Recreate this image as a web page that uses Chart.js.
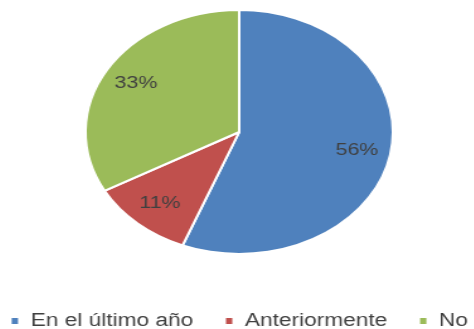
<!DOCTYPE html>
<html>
<head>
<meta charset="utf-8">
<script src="https://cdn.jsdelivr.net/npm/chart.js@4/dist/chart.umd.min.js"></script>
<style>
    html, body { margin: 0; padding: 0; background: #fff; overflow: hidden; width: 474px; height: 329px; }
    /* the reference picture is stretched horizontally, so the chart is too */
    #wrap { position: absolute; left: -37.7px; top: -23px; width: 440px; height: 363px; transform: scaleX(1.26); transform-origin: 0 0; }
</style>
</head>
<body>
<div id="wrap"><canvas id="pie-chart"></canvas></div>
<script>
const categorias = ['En el último año', 'Anteriormente', 'No'];
const valores = [56, 11, 33];
const colores = ['#4F81BD', '#C0504D', '#9BBB59'];

// etiquetas de porcentaje dentro de cada sector
const etiquetasPlugin = {
    id: 'etiquetas',
    afterDatasetsDraw(chart) {
        const ctx = chart.ctx;
        const meta = chart.getDatasetMeta(0);
        const total = valores.reduce((a, b) => a + b, 0);
        ctx.save();
        ctx.font = '17px "Liberation Sans", Arial, sans-serif';
        ctx.fillStyle = '#404040';
        ctx.textAlign = 'center';
        ctx.textBaseline = 'middle';
        meta.data.forEach((arc, i) => {
            const { x, y, startAngle, endAngle, outerRadius } = arc.getProps(['x', 'y', 'startAngle', 'endAngle', 'outerRadius'], true);
            const medio = (startAngle + endAngle) / 2;
            const r = outerRadius * 0.78;
            const pct = Math.round(valores[i] / total * 100) + '%';
            ctx.fillText(pct, x + Math.cos(medio) * r, y + Math.sin(medio) * r);
        });
        ctx.restore();
    }
};

new Chart(document.getElementById('pie-chart'), {
    type: 'pie',
    data: {
        labels: categorias,
        datasets: [{
            data: valores,
            backgroundColor: colores,
            borderColor: '#ffffff',
            borderWidth: 2,
            radius: 122
        }]
    },
    options: {
        responsive: true,
        maintainAspectRatio: false,
        animation: false,
        layout: { padding: 0 },
        plugins: {
            tooltip: { enabled: false },
            legend: {
                position: 'bottom',
                align: 'center',
                labels: {
                    boxWidth: 7,
                    boxHeight: 8,
                    padding: 25,
                    color: '#404040',
                    font: { family: '"Liberation Sans", Arial, sans-serif', size: 18 }
                }
            }
        }
    },
    plugins: [etiquetasPlugin]
});
</script>
</body>
</html>
